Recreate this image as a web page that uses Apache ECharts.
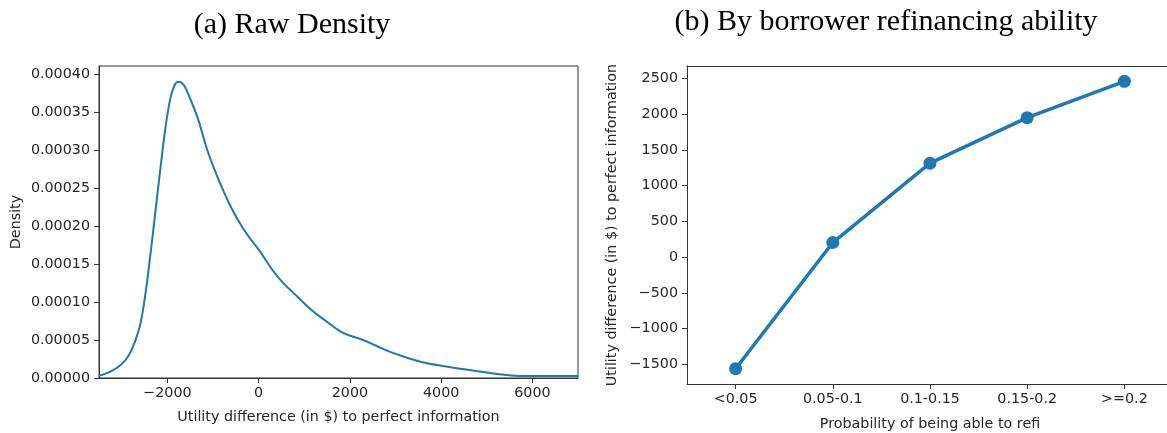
<!DOCTYPE html>
<html>
<head>
<meta charset="utf-8">
<script src="https://cdn.jsdelivr.net/npm/echarts@6/dist/echarts.min.js"></script>
<style>html,body{margin:0;padding:0;background:#fff}#c{width:1167px;height:433px}</style>
</head>
<body>
<div id="c"></div>
<script>
// ---- Data ----
const kdeX = [-3500,-3250,-3025,-2845,-2700,-2590,-2480,-2370,-2260,-2150,-2040,-1930,-1840,-1780,-1730,-1675,-1620,-1530,-1345,-1125,-905,-615,-320,0,410,850,1210,1500,1800,1950,2200,2450,2700,2970,3550,4140,4720,5235,5600,6000,6500,7000];
const kdeY = [0.0000030,0.0000083,0.0000171,0.000030,0.000050,0.000072,0.000112,0.000164,0.000221,0.000278,0.000331,0.000370,0.000386,0.000390,0.000390,0.000388,0.000384,0.000372,0.000344,0.000300,0.000265,0.000226,0.000195,0.000169,0.000134,0.000107,0.000087,0.000074,0.000061,0.000057,0.000052,0.000046,0.000039,0.0000325,0.0000215,0.0000149,0.0000096,0.0000053,0.0000030,0.0000027,0.0000026,0.0000026];
const leftXTicks = [-2000, 0, 2000, 4000, 6000];
const leftYTicks = [0, 0.00005, 0.0001, 0.00015, 0.0002, 0.00025, 0.0003, 0.00035, 0.0004];
const refiCats = ['<0.05', '0.05-0.1', '0.1-0.15', '0.15-0.2', '>=0.2'];
const refiVals = [-1560, 204, 1313, 1950, 2458];
const rightYTicks = [-1500, -1000, -500, 0, 500, 1000, 1500, 2000, 2500];
const titleA = '(a) Raw Density';
const titleB = '(b) By borrower refinancing ability';

const FONT = 'DejaVu Sans';
const FS = 14.3;
const TXT = '#262626';
const AX = '#333333';
const BLUE = '#1f77b4';
const minus = v => String(v).replace('-', '\u2212');

const chart = echarts.init(document.getElementById('c'), null, {renderer: 'canvas'});
const axisCommon = {
  axisLine: {show: true, onZero: false, lineStyle: {color: AX, width: 1}},
  axisTick: {show: true, inside: false, length: 5, lineStyle: {color: AX, width: 1}},
  splitLine: {show: false},
  nameTextStyle: {fontFamily: FONT, fontSize: FS, color: TXT},
};
chart.setOption({
  animation: false,
  textStyle: {fontFamily: FONT},
  graphic: [
    {type: 'text', x: 292, y: 25, style: {text: titleA, font: '30px "Liberation Serif"', fill: '#000', textAlign: 'center', textVerticalAlign: 'middle'}},
    {type: 'text', x: 886, y: 22, style: {text: titleB, font: '30px "Liberation Serif"', fill: '#000', textAlign: 'center', textVerticalAlign: 'middle'}}
  ],
  grid: [
    {left: 99, width: 479, top: 66, height: 312, show: true, borderColor: AX, borderWidth: 1, backgroundColor: 'transparent', containLabel: false, outerBoundsMode: 'none'},
    {left: 687, width: 486, top: 66, height: 318, show: false, containLabel: false, outerBoundsMode: 'none'}
  ],
  xAxis: [
    Object.assign({}, axisCommon, {
      type: 'value', gridIndex: 0, min: -3500, max: 7000,
      name: 'Utility difference (in $) to perfect information', nameLocation: 'middle', nameGap: 32,
      axisTick: Object.assign({}, axisCommon.axisTick, {customValues: leftXTicks}),
      axisLabel: {customValues: leftXTicks, formatter: v => minus(v), fontFamily: FONT, fontSize: FS, color: TXT, margin: 8}
    }),
    Object.assign({}, axisCommon, {
      type: 'category', gridIndex: 1, data: refiCats, boundaryGap: true,
      name: 'Probability of being able to refi', nameLocation: 'middle', nameGap: 33,
      axisTick: Object.assign({}, axisCommon.axisTick, {alignWithLabel: true}),
      axisLabel: {fontFamily: FONT, fontSize: FS, color: TXT, margin: 8, interval: 0}
    }),
    {
      type: 'category', gridIndex: 1, data: refiCats, position: 'top', boundaryGap: true,
      axisLine: {show: true, onZero: false, lineStyle: {color: AX, width: 1}},
      axisTick: {show: false}, axisLabel: {show: false}, splitLine: {show: false}
    }
  ],
  yAxis: [
    Object.assign({}, axisCommon, {
      type: 'value', gridIndex: 0, min: 0, max: 0.000411,
      name: 'Density', nameLocation: 'middle', nameGap: 76,
      axisTick: Object.assign({}, axisCommon.axisTick, {customValues: leftYTicks}),
      axisLabel: {customValues: leftYTicks, formatter: v => v.toFixed(5), fontFamily: FONT, fontSize: FS, color: TXT, margin: 9}
    }),
    Object.assign({}, axisCommon, {
      type: 'value', gridIndex: 1, min: -1774, max: 2672,
      name: 'Utility difference (in $) to perfect information', nameLocation: 'middle', nameGap: 68,
      axisTick: Object.assign({}, axisCommon.axisTick, {customValues: rightYTicks}),
      axisLabel: {customValues: rightYTicks, formatter: v => minus(v), fontFamily: FONT, fontSize: FS, color: TXT, margin: 9}
    })
  ],
  series: [
    {type: 'line', xAxisIndex: 0, yAxisIndex: 0, data: kdeX.map((x, i) => [x, kdeY[i]]),
     showSymbol: false, smooth: 0.4, lineStyle: {color: BLUE, width: 2}, clip: true},
    {type: 'line', xAxisIndex: 1, yAxisIndex: 1, data: refiVals,
     symbol: 'circle', symbolSize: 13, itemStyle: {color: BLUE}, lineStyle: {color: BLUE, width: 3.5}}
  ]
});
</script>
</body>
</html>
